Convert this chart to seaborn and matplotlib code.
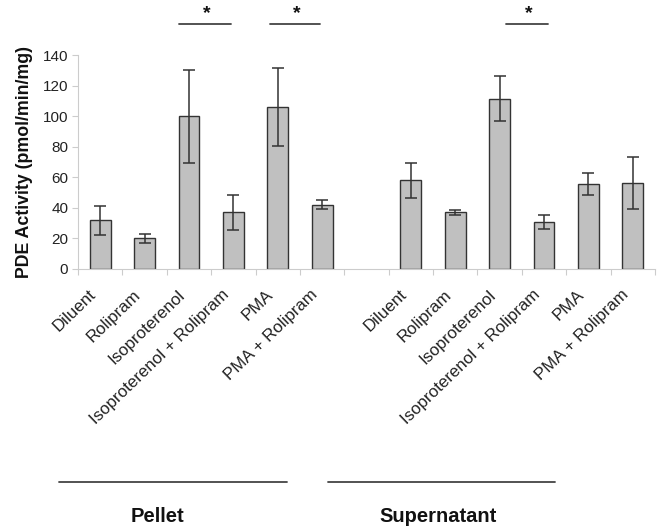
import matplotlib
matplotlib.use("Agg")
import matplotlib.pyplot as plt
from matplotlib import transforms
import seaborn as sns
import pandas as pd
import numpy as np

treatments = ["Diluent", "Rolipram", "Isoproterenol", "Isoproterenol + Rolipram", "PMA", "PMA + Rolipram"]
groups = ["Pellet", "Supernatant"]
pellet_mean = [32, 20, 100, 37, 106, 42]
pellet_err = [9.5, 3, 30.5, 11.5, 25.5, 3]
super_mean = [58, 37, 111.5, 30.5, 55.5, 56.5]
super_err = [11.5, 1.5, 15, 4.5, 7, 17]
y_ticks = [0, 20, 40, 60, 80, 100, 120, 140]
sig_pairs = [("Pellet", 2, 3), ("Pellet", 4, 5), ("Supernatant", 2, 3)]

sns.set_theme(style="white")
plt.rcParams['font.family'] = ['Liberation Sans', 'DejaVu Sans']

keys, means, errs, labels = [], [], [], []
for g, m, e in [("Pellet", pellet_mean, pellet_err), ("Supernatant", super_mean, super_err)]:
    for t, mv, ev in zip(treatments, m, e):
        keys.append(f"{g}|{t}")
        means.append(mv)
        errs.append(ev)
        labels.append(t)
order = keys[:6] + ["gap"] + keys[6:]
df = pd.DataFrame({"key": keys, "value": means})

fig = plt.figure(figsize=(6.57, 5.32), dpi=100)
ax = fig.add_axes([0.1187, 0.4944, 0.997 - 0.1187, 0.8966 - 0.4944])
sns.barplot(data=df, x="key", y="value", order=order, color="#c0c0c0",
            edgecolor="#333333", linewidth=1.0, width=0.47, saturation=1, ax=ax, errorbar=None)

pos = {k: i for i, k in enumerate(order)}
xs = [pos[k] for k in keys]
ax.errorbar(xs, means, yerr=errs, fmt="none", ecolor="#333333", elinewidth=1.1,
            capsize=4, capthick=1.1, zorder=5)

ax.set_xlim(-0.5, len(order) - 0.5)
ax.set_ylim(0, 140)
ax.set_yticks(y_ticks)
ax.set_yticklabels([str(v) for v in y_ticks], fontsize=11, color="#222222")
ax.tick_params(axis="y", length=4, color="#cccccc", width=0.8, pad=3, left=True)

ax.set_xticks(xs)
ax.set_xticklabels(labels, rotation=44, ha="right", rotation_mode="anchor", fontsize=12.2, color="#222222")
ax.tick_params(axis="x", length=0, pad=13)
ax.set_xticks(np.arange(-0.5, len(order), 1.0), minor=True)
ax.tick_params(axis="x", which="minor", length=4, color="#cccccc", width=0.8, bottom=True)
for lab in ax.get_xticklabels():
    lab.set_transform(lab.get_transform() + transforms.ScaledTranslation(-8.5/72, 0, fig.dpi_scale_trans))

for s in ["top", "right"]:
    ax.spines[s].set_visible(False)
ax.spines["left"].set_color("#cccccc")
ax.spines["bottom"].set_color("#cccccc")
ax.spines["left"].set_linewidth(0.8)
ax.spines["bottom"].set_linewidth(0.8)

ax.set_xlabel("")
ax.set_ylabel("PDE Activity (pmol/min/mg)", fontsize=12.8, fontweight="bold", labelpad=7, color="#111111")

# significance bars
sig_offsets = [(-0.22, -0.06), (-0.18, -0.05), (0.14, 0.08)]
for (g, i, j), (o1, o2) in zip(sig_pairs, sig_offsets):
    x1 = pos[f"{g}|{treatments[i]}"] + o1
    x2 = pos[f"{g}|{treatments[j]}"] + o2
    ax.plot([x1, x2], [160.5, 160.5], color="#444444", lw=1.3, clip_on=False)
    ax.text((x1 + x2) / 2 + 0.05, 161.5, "*", ha="center", va="bottom", fontsize=14, fontweight="bold",
            clip_on=False, color="#111111")

# group brackets below (figure coordinates)
group_lines = [(59, 287, 157), (328, 555, 438)]
for g, (xa, xb, xc) in zip(groups, group_lines):
    fig.add_artist(plt.Line2D([xa / 657, xb / 657], [1 - 482 / 532] * 2, color="#444444", lw=1.3))
    fig.text(xc / 657, 1 - 517 / 532, g, ha="center", va="center", fontsize=14.5, fontweight="bold",
             color="#111111")

fig.savefig("out.png", dpi=100)
